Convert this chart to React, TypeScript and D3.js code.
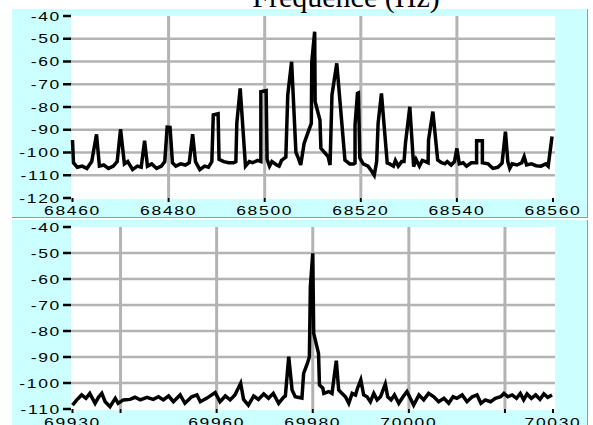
import React from 'react';
import * as d3 from 'd3';

// Spectrum 1: frequency (Hz), level (dB)
const topSpectrum: [number, number][] = [
  [68460.0, -94.5], [68460.2, -104.5], [68461.0, -106.5], [68462.0, -106], [68463.0, -107],
  [68464.0, -104], [68465.0, -92], [68465.6, -106], [68466.5, -105.5], [68467.5, -107],
  [68468.5, -106], [68469.3, -104], [68470.0, -89.7], [68470.8, -105], [68471.5, -104],
  [68472.5, -107.5], [68473.5, -106], [68474.3, -106.5], [68475.0, -94.8], [68475.6, -106],
  [68476.5, -105], [68477.5, -107], [68478.5, -106], [68479.2, -104], [68479.7, -88.9],
  [68480.3, -89], [68480.8, -104.5], [68481.5, -106], [68482.5, -105], [68483.5, -105.5],
  [68484.3, -104.5], [68485.0, -92], [68485.6, -104], [68486.5, -107.5], [68487.5, -106],
  [68488.3, -106.5], [68489.0, -104], [68489.3, -83.5], [68490.3, -83], [68490.5, -103],
  [68491.5, -104], [68492.5, -104.5], [68493.5, -104.5], [68494.0, -104], [68494.2, -87],
  [68494.9, -71.8], [68496.0, -106], [68496.8, -104], [68497.5, -104.5], [68498.5, -103.5],
  [68499.2, -104], [68499.2, -73.3], [68500.3, -72.8], [68500.5, -103], [68501.0, -106],
  [68501.5, -104], [68502.5, -105.5], [68503.0, -106], [68503.5, -103.5], [68504.4, -102],
  [68504.8, -74.7], [68505.6, -60.1], [68506.5, -100], [68507.0, -102.5], [68507.5, -105.5],
  [68508.2, -96], [68508.7, -93], [68509.7, -87.2], [68509.8, -60], [68510.4, -46.9],
  [68510.5, -77.7], [68511.5, -85.7], [68511.7, -98.2], [68513.2, -101.8], [68513.6, -105.5],
  [68514.0, -74.7], [68515.0, -60.8], [68516.7, -103.3], [68517.7, -105], [68518.5, -105],
  [68518.8, -104.6], [68518.8, -87.9], [68519.3, -74], [68519.5, -73.8], [68519.8, -102.4],
  [68520.5, -105], [68521.5, -106], [68522.2, -108], [68522.8, -110], [68523.3, -104],
  [68523.6, -87.2], [68524.3, -74], [68525.5, -104.6], [68526.0, -105], [68526.8, -106],
  [68527.2, -103.5], [68527.8, -106], [68528.5, -104], [68529.0, -104], [68529.3, -95.8],
  [68530.2, -79.9], [68531.0, -106.2], [68531.5, -103], [68532.2, -106], [68532.8, -103.5],
  [68533.5, -104], [68534.0, -104.5], [68534.1, -94.5], [68535.0, -82], [68536.0, -103.3],
  [68536.8, -104.5], [68537.5, -105], [68538.0, -104], [68538.8, -105.5], [68539.5, -104],
  [68540.0, -98.2], [68540.5, -105], [68541.3, -104.5], [68542.0, -106], [68543.0, -104.5],
  [68544.1, -104.5], [68544.1, -94.8], [68545.3, -94.8], [68545.3, -104.5], [68546.5, -105],
  [68547.5, -107], [68548.5, -106.5], [68549.4, -104.7], [68550.1, -90.8], [68550.6, -104],
  [68551.0, -107], [68551.5, -105], [68552.5, -105.5], [68553.5, -104.5], [68554.0, -101.8],
  [68554.5, -105.5], [68555.5, -105], [68556.5, -105.8], [68557.5, -106], [68558.5, -105],
  [68559.0, -106], [68559.8, -93],
];

// Spectrum 2: frequency (Hz), level (dB)
const bottomSpectrum: [number, number][] = [
  [69930.0, -108.5], [69930.9, -106.5], [69931.9, -104.6], [69932.8, -105.9], [69933.6, -104],
  [69934.7, -107.8], [69935.4, -105.5], [69936.1, -104], [69936.8, -107.2], [69937.8, -109.1],
  [69938.9, -105.9], [69939.5, -107.8], [69940.6, -106.5], [69942.0, -106.3], [69943.0, -105.5],
  [69944.1, -106.5], [69945.5, -105.5], [69946.8, -106.3], [69947.9, -105.3], [69948.9, -106.5],
  [69950.0, -105], [69951.0, -107.2], [69952.4, -104.6], [69953.4, -107.8], [69954.8, -105.3],
  [69955.9, -104.6], [69956.6, -107.2], [69957.9, -105.9], [69959.7, -103.7], [69960.7, -107.2],
  [69961.8, -105], [69962.8, -106.5], [69963.8, -104.6], [69965.0, -100.1], [69965.6, -106.3],
  [69966.6, -108.5], [69967.7, -105], [69968.7, -106.3], [69969.8, -104.2], [69970.8, -105.9],
  [69971.8, -104], [69972.9, -107.8], [69973.9, -105.5], [69974.3, -105], [69975.0, -89.9],
  [69975.7, -102.7], [69976.35, -105.3], [69977.75, -105.8], [69978.1, -96.3], [69978.9, -92.4],
  [69979.3, -89.9], [69979.5, -63], [69980.0, -50.1], [69980.2, -80.9], [69981.2, -88.6],
  [69981.4, -100.8], [69982.1, -102], [69982.3, -104], [69983.3, -103.3], [69984.0, -104],
  [69984.9, -91.4], [69985.4, -102.7], [69986.1, -104], [69986.8, -105.3], [69987.5, -107.8],
  [69988.2, -104], [69988.9, -104.6], [69989.3, -102.1], [69990.0, -98.8], [69990.6, -104.6],
  [69991.3, -105.3], [69992.0, -107.2], [69992.7, -104], [69993.4, -106.5], [69994.1, -105.3],
  [69995.1, -100.4], [69995.6, -105.3], [69996.3, -106.5], [69997.0, -104.6], [69997.9, -107.8],
  [69998.8, -105.3], [69999.6, -103.3], [70000.3, -105.9], [70001.0, -108.5], [70002.1, -104.6],
  [70003.1, -106.5], [70004.1, -104], [70005.2, -105.3], [70006.2, -107.2], [70007.3, -105.9],
  [70008.3, -107.8], [70009.2, -105.3], [70010.0, -105.9], [70011.1, -104.6], [70012.1, -107.2],
  [70013.2, -105.3], [70014.2, -104.6], [70015.0, -107.8], [70015.9, -106.5], [70017.0, -107.2],
  [70018.0, -105.9], [70019.1, -105.3], [70019.8, -104], [70020.6, -105.3], [70021.5, -104.6],
  [70022.4, -105.9], [70023.2, -104], [70023.9, -106.5], [70024.6, -104.2], [70025.5, -105.9],
  [70026.4, -104.6], [70027.3, -106.3], [70028.1, -104.2], [70028.9, -105.5], [70029.8, -104.6],
];

const topYTicks = [-40, -50, -60, -70, -80, -90, -100, -110, -120];
const topYGrid = [-50, -60, -70, -80, -90, -100, -110];
const topXTicks = [68460, 68480, 68500, 68520, 68540, 68560];
const topXLabels = [68460, 68480, 68500, 68520, 68540, 68560];
const topXGrid = [68480, 68500, 68520, 68540];

const bottomYTicks = [-40, -50, -60, -70, -80, -90, -100, -110];
const bottomYGrid = [-50, -60, -70, -80, -90, -100];
const bottomXTicks = [69930, 69940, 69960, 69980, 70000, 70020, 70030];
const bottomXLabels = [69930, 69960, 69980, 70000, 70030];
const bottomXGrid = [69940, 69960, 69980, 70000, 70020];

const title = 'Frequence (Hz)';

const FONT = "'Liberation Sans', Arial, sans-serif";
const CYAN = '#ccffff';
const GRID = '#b3b3b3';

const PANEL_LEFT = 12;
const PANEL_RIGHT = 587;
const PLOT_LEFT = 71;
const PLOT_RIGHT = 555;

type PanelProps = {
  data: [number, number][];
  xDomain: [number, number];
  yDomain: [number, number];
  panelTop: number;
  panelBottom: number;
  plotTop: number;
  plotBottom: number;
  yTicks: number[];
  yGrid: number[];
  xTicks: number[];
  xLabels: number[];
  xGrid: number[];
  labelOffset: number;
};

function Panel(p: PanelProps) {
  const x = d3.scaleLinear().domain(p.xDomain).range([72.5, 553]);
  const y = d3.scaleLinear().domain(p.yDomain).range([p.plotTop, p.plotBottom]);
  const line = d3.line<[number, number]>().x(d => x(d[0])).y(d => y(d[1]));
  const bottom = y(p.yDomain[1]);

  return (
    <g>
      <rect x={PANEL_LEFT} y={p.panelTop} width={PANEL_RIGHT - PANEL_LEFT} height={p.panelBottom - p.panelTop} fill={CYAN} />
      <line x1={PANEL_RIGHT + 0.5} x2={PANEL_RIGHT + 0.5} y1={p.panelTop} y2={p.panelBottom} stroke="#999" />
      <line x1={PANEL_LEFT} x2={PANEL_RIGHT + 1} y1={p.panelBottom + 0.5} y2={p.panelBottom + 0.5} stroke="#999" />
      <rect x={PLOT_LEFT} y={p.plotTop} width={PLOT_RIGHT - PLOT_LEFT} height={bottom - p.plotTop + 1} fill="#fff" />

      {p.yGrid.map(v => (
        <line key={'gy' + v} x1={PLOT_LEFT} x2={PLOT_RIGHT} y1={y(v)} y2={y(v)} stroke={GRID} strokeWidth={2.5} />
      ))}
      {p.xGrid.map(v => (
        <line key={'gx' + v} x1={x(v)} x2={x(v)} y1={p.plotTop} y2={bottom} stroke={GRID} strokeWidth={3} />
      ))}

      {p.yTicks.map(v => (
        <g key={'ty' + v}>
          <line x1={63} x2={PLOT_LEFT} y1={y(v)} y2={y(v)} stroke="#000" strokeWidth={2.5} />
          <text transform={`translate(61,${y(v) + 4.5}) scale(1.4,1)`} textAnchor="end"
            fontFamily={FONT} fontSize={12.5} letterSpacing={1.2} fill="#000">{v}</text>
        </g>
      ))}
      {p.xTicks.map(v => (
        <line key={'tx' + v} x1={x(v)} x2={x(v)} y1={bottom} y2={bottom + 4} stroke="#000" strokeWidth={2} />
      ))}
      {p.xLabels.map(v => (
        <text key={'lx' + v} transform={`translate(${x(v)},${bottom + p.labelOffset}) scale(1.4,1)`} textAnchor="middle"
          fontFamily={FONT} fontSize={12.5} letterSpacing={1.2} fill="#000">{v}</text>
      ))}

      <path d={line(p.data) ?? ''} fill="none" stroke="#000" strokeWidth={3.5} />
    </g>
  );
}

export default function App() {
  return (
    <svg width={593} height={425} style={{ position: 'absolute', left: 0, top: 0, background: '#fff' }}>
      <Panel data={topSpectrum} xDomain={[68460, 68560]} yDomain={[-40, -120]}
        panelTop={9} panelBottom={217} plotTop={16} plotBottom={198}
        yTicks={topYTicks} yGrid={topYGrid} xTicks={topXTicks} xLabels={topXLabels} xGrid={topXGrid}
        labelOffset={17} />
      <Panel data={bottomSpectrum} xDomain={[69930, 70030]} yDomain={[-40, -110]}
        panelTop={220} panelBottom={440} plotTop={227} plotBottom={409}
        yTicks={bottomYTicks} yGrid={bottomYGrid} xTicks={bottomXTicks} xLabels={bottomXLabels} xGrid={bottomXGrid}
        labelOffset={18} />
      <text x={346} y={7} textAnchor="middle" fontFamily="'Liberation Serif', 'Times New Roman', serif" fontSize={30} fill="#000">{title}</text>
    </svg>
  );
}
